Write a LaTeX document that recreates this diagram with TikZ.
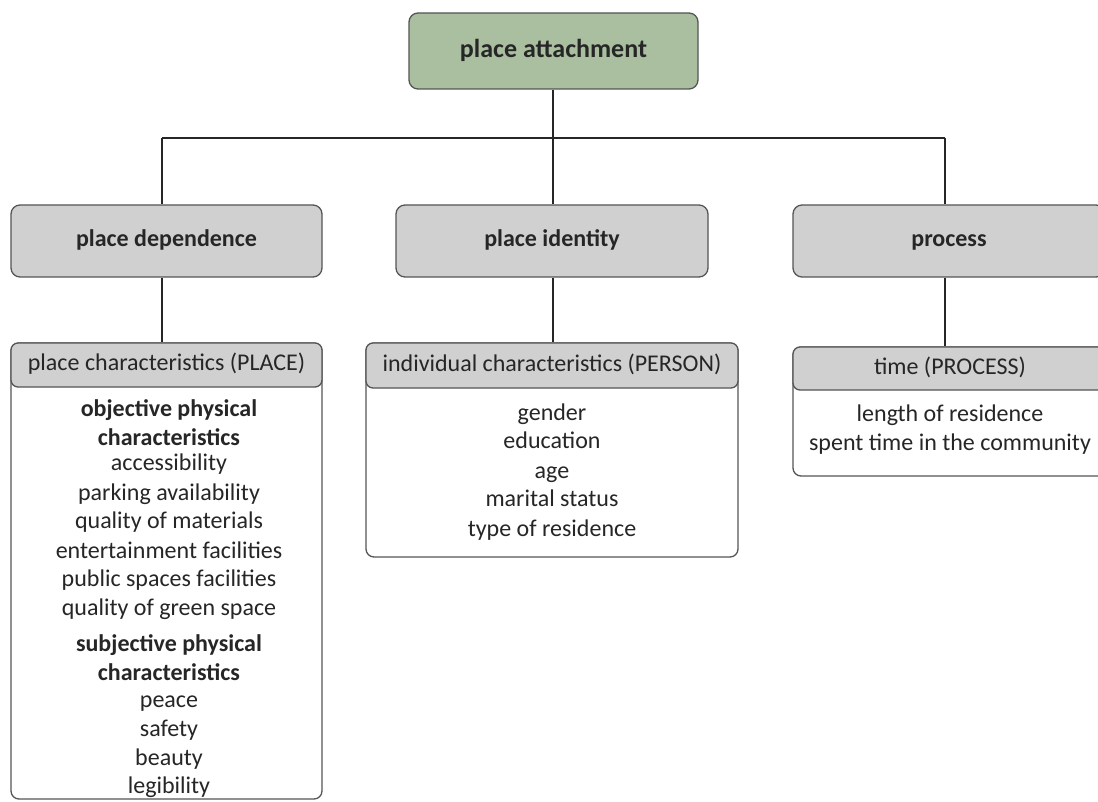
\documentclass[tikz,border=0pt]{standalone}
\usepackage{fontspec}
\setmainfont{Carlito}
\definecolor{boxgreen}{HTML}{A9BF9F}
\definecolor{boxgray}{HTML}{D0D0D0}
\definecolor{edgegray}{HTML}{555555}
\definecolor{txt}{HTML}{262626}
\tikzset{
  topbox/.style={draw=edgegray, line width=1.3pt, fill=boxgreen, rounded corners=9pt, minimum width=289pt, minimum height=76pt, font=\fontsize{26}{30}\selectfont\bfseries, text=txt, text height=1.45em, text depth=0.2em},
  levelbox/.style={draw=edgegray, line width=1.3pt, fill=boxgray, rounded corners=9pt, minimum height=72pt, font=\fontsize{24}{28}\selectfont\bfseries, text=txt, text height=1.3em, text depth=0.18em},
  headbox/.style={draw=edgegray, line width=1.3pt, fill=boxgray, rounded corners=7pt, font=\fontsize{24}{28}\selectfont, text=txt, text height=1.3em, text depth=0.18em, inner sep=0pt},
  bodybox/.style={draw=edgegray, line width=1.3pt, fill=white, rounded corners=8pt},
  conn/.style={draw=txt, line width=1.5pt},
  item/.style={anchor=base, inner sep=0pt, font=\fontsize{24}{28}\selectfont, text=txt},
  bolditem/.style={item, font=\fontsize{24}{28}\selectfont\bfseries}
}
\begin{document}
\begin{tikzpicture}[x=1pt,y=-1pt]
\useasboundingbox (0,0) rectangle (1098,802);
\clip (0,0) rectangle (1098,802);

% top
\node[topbox] (pa) at (553.5,51) {place attachment};
% level 2
\node[levelbox, minimum width=311pt] (pd) at (166.5,241) {place dependence};
\node[levelbox, minimum width=312pt] (pi) at (552,241) {place identity};
\node[levelbox, minimum width=312pt] (pr) at (949,241) {process};

% bodies
\draw[bodybox] (11,343) rectangle (322,799);
\draw[bodybox] (366,343) rectangle (738,557);
\draw[bodybox] (793,347) rectangle (1107,476);

% headers
\node[headbox, minimum width=311pt, minimum height=44pt] (ph1) at (166.5,365) {place characteristics (PLACE)};
\node[headbox, minimum width=372pt, minimum height=45pt] (ph2) at (552,365.5) {individual characteristics (PERSON)};
\node[headbox, minimum width=314pt, minimum height=43pt] (ph3) at (950,368.5) {time (PROCESS)};

% connectors
\coordinate (busL) at (162,138);
\coordinate (busM) at (553,138);
\coordinate (busR) at (945,138);
\draw[conn] (pa.south -| busM) -- (pi.north -| busM);
\draw[conn] (busL) -- (busR);
\draw[conn] (busL) -- (pd.north -| busL);
\draw[conn] (busR) -- (pr.north -| busR);
\draw[conn] (pd.south -| busL) -- (ph1.north -| busL);
\draw[conn] (pi.south -| busM) -- (ph2.north -| busM);
\draw[conn] (pr.south -| busR) -- (ph3.north -| busR);

% left body
\node[bolditem] (l1) at (169,416) {objective physical};
\node[bolditem] (l2) at (169,445) {characteristics};
\node[item] (l3) at (169,470) {accessibility};
\node[item] (l4) at (169,500) {parking availability};
\node[item] (l5) at (169,528) {quality of materials};
\node[item] (l6) at (169,558) {entertainment facilities};
\node[item] (l7) at (169,586) {public spaces facilities};
\node[item] (l8) at (169,615) {quality of green space};
\node[bolditem] (l9) at (169,651) {subjective physical};
\node[bolditem] (l10) at (169,680) {characteristics};
\node[item] (l11) at (169,707) {peace};
\node[item] (l12) at (169,736) {safety};
\node[item] (l13) at (169,765) {beauty};
\node[item] (l14) at (169,793) {legibility};

% middle body
\node[item] (m1) at (552,420) {gender};
\node[item] (m2) at (552,448) {education};
\node[item] (m3) at (552,478) {age};
\node[item] (m4) at (552,506) {marital status};
\node[item] (m5) at (552,536) {type of residence};

% right body
\node[item] (r1) at (950,421) {length of residence};
\node[item] (r2) at (950,450) {spent time in the community};
\end{tikzpicture}
\end{document}
